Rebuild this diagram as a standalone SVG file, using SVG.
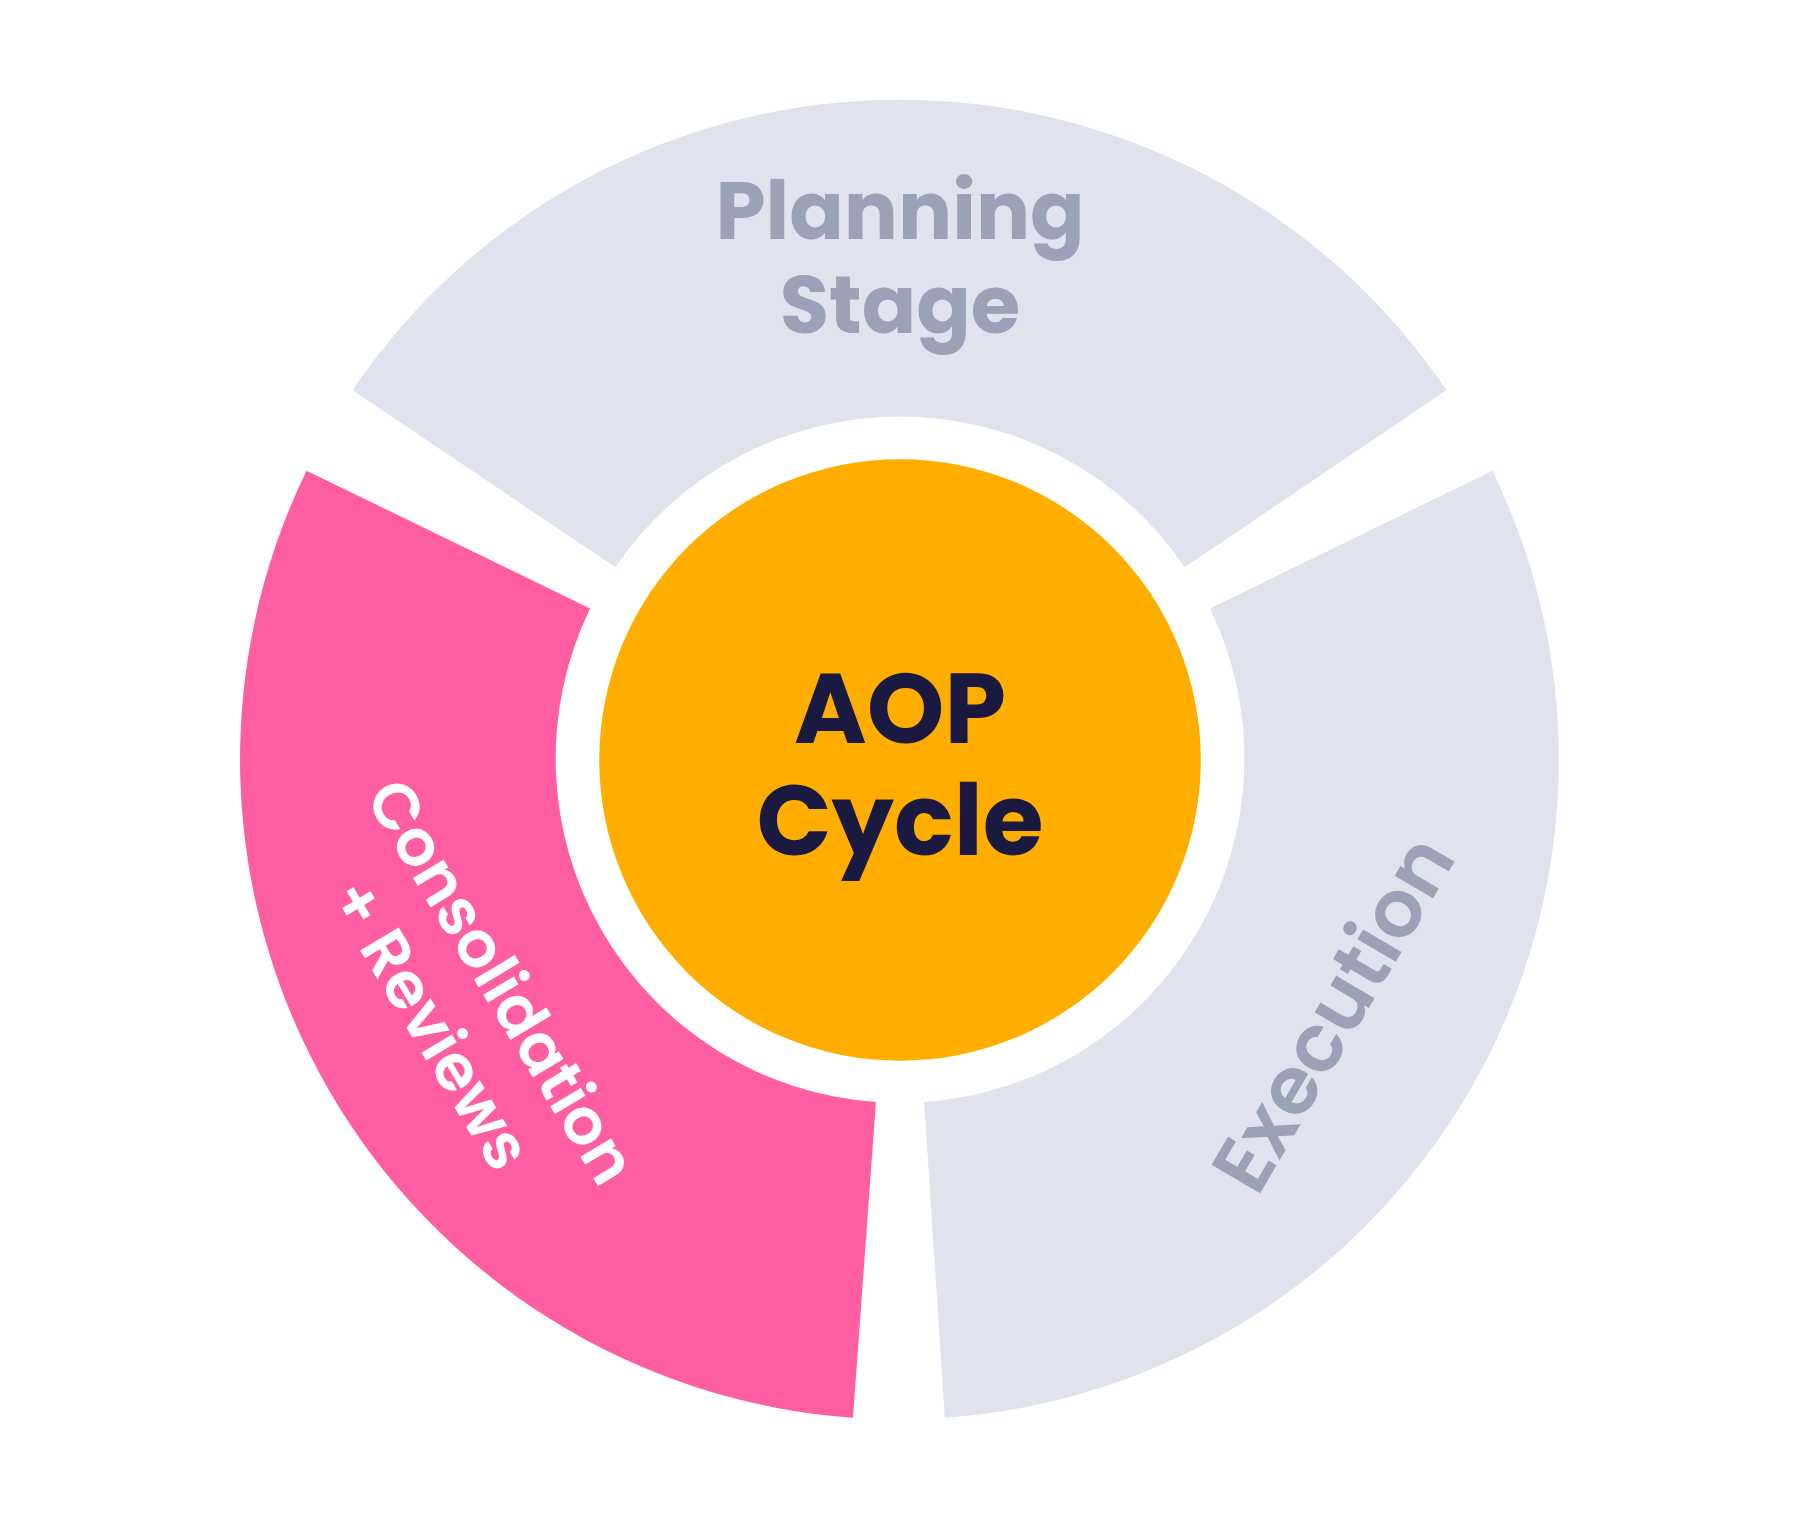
<svg xmlns="http://www.w3.org/2000/svg" width="1800" height="1520" viewBox="0 0 1800 1520">
<style>
.g{fill:#E0E3EE}.p{fill:#FF5FA2}
text{font-family:Poppins,"Noto Sans","Liberation Sans",sans-serif;font-weight:700;text-anchor:middle}
.lt{fill:#9BA1B6;font-size:70px}
.w{fill:#FFFFFF;font-size:56px;font-weight:600}
.c{fill:#1A1A40;font-size:86px}
</style>
<rect width="1800" height="1520" fill="#FFFFFF"/>
<g transform="scale(1.148)">
<g id="planning">
<path class="g" d="M307,340 A575,575 0 0 1 1260,340 L1032,494 A300,300 0 0 0 536,494 Z"/>
<text class="lt" x="784" y="208">Planning</text>
<text class="lt" x="784" y="290">Stage</text>
</g>
<g id="execution">
<path class="g" d="M1300,410 A575,575 0 0 1 823,1235 L805,960 A300,300 0 0 0 1054,530 Z"/>
<text class="lt" x="0" y="20" transform="translate(1165,885) rotate(-59.6)" style="font-weight:600">Execution</text>
</g>
<g id="consolidation">
<path class="p" d="M743,1235 A575,575 0 0 1 267,410 L514,530 A300,300 0 0 0 763,960 Z"/>
<text class="w" transform="translate(420,865) rotate(59)"><tspan x="0" y="0">Consolidation</tspan><tspan x="0" y="72">+ Reviews</tspan></text>
</g>
<g id="center">
<circle cx="784" cy="662" r="262" fill="#FFAE00"/>
<text class="c" x="784" y="647">AOP</text>
<text class="c" x="784" y="745">Cycle</text>
</g>
<g id="connectors"/>
</g>
</svg>
